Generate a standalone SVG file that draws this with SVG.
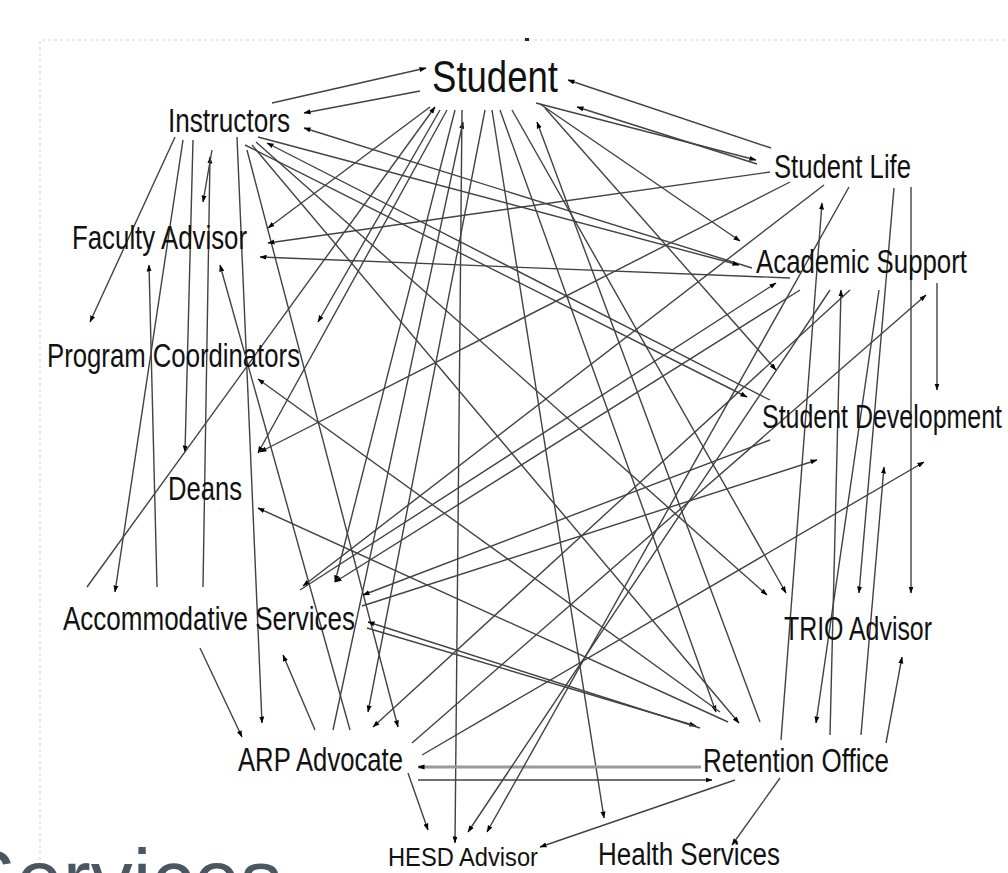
<svg xmlns="http://www.w3.org/2000/svg" width="1008" height="873" viewBox="0 0 1008 873">
<defs>
<marker id="ah" viewBox="0 0 7 6" refX="6.5" refY="3" markerWidth="7" markerHeight="6" markerUnits="userSpaceOnUse" orient="auto"><path d="M0,0.5 L7,3 L0,5.5 z" fill="#000"/></marker>
<style>
.c line{stroke:#424242;stroke-width:1.4;fill:none;marker-end:url(#ah)}
.lbl{font-family:"Liberation Sans",Arial,sans-serif;font-size:26px;fill:#111}
</style>
</defs>
<rect width="1008" height="873" fill="#fff"/>
<g id="frame" stroke="#e2e2e2" stroke-width="1.5" stroke-dasharray="3 3" fill="none">
<path d="M40,860 V40 H1008"/>
</g>
<rect x="525" y="38" width="4" height="3" fill="#222"/>
<g id="connectors" class="c">
<line x1="272" y1="103" x2="426" y2="68"/>
<line x1="420" y1="91" x2="304" y2="113"/>
<line x1="752" y1="268" x2="304" y2="128"/>
<line x1="258" y1="137" x2="739" y2="265"/>
<line x1="770" y1="400" x2="267" y2="143"/>
<line x1="245" y1="145" x2="747" y2="397"/>
<line x1="175" y1="137" x2="90" y2="322"/>
<line x1="183" y1="140" x2="115" y2="592"/>
<line x1="193" y1="140" x2="185" y2="452"/>
<line x1="203" y1="587" x2="210" y2="157"/>
<line x1="212" y1="150" x2="203" y2="202"/>
<line x1="237" y1="137" x2="262" y2="723"/>
<line x1="247" y1="150" x2="398" y2="727"/>
<line x1="252" y1="145" x2="739" y2="723"/>
<line x1="256" y1="142" x2="767" y2="595"/>
<line x1="771" y1="148" x2="568" y2="80"/>
<line x1="536" y1="103" x2="756" y2="160"/>
<line x1="757" y1="164" x2="577" y2="107"/>
<line x1="540" y1="104" x2="740" y2="241"/>
<line x1="430" y1="107" x2="268" y2="228"/>
<line x1="87" y1="587" x2="435" y2="107"/>
<line x1="440" y1="110" x2="318" y2="322"/>
<line x1="447" y1="110" x2="258" y2="453"/>
<line x1="455" y1="110" x2="335" y2="582"/>
<line x1="333" y1="730" x2="463" y2="122"/>
<line x1="485" y1="110" x2="368" y2="712"/>
<line x1="462" y1="110" x2="455" y2="843"/>
<line x1="492" y1="110" x2="604" y2="818"/>
<line x1="500" y1="110" x2="716" y2="712"/>
<line x1="512" y1="110" x2="786" y2="593"/>
<line x1="760" y1="722" x2="537" y2="122"/>
<line x1="545" y1="108" x2="776" y2="370"/>
<line x1="770" y1="172" x2="268" y2="243"/>
<line x1="790" y1="278" x2="260" y2="257"/>
<line x1="157" y1="587" x2="149" y2="265"/>
<line x1="350" y1="730" x2="220" y2="265"/>
<line x1="720" y1="712" x2="258" y2="379"/>
<line x1="790" y1="182" x2="260" y2="452"/>
<line x1="728" y1="722" x2="258" y2="508"/>
<line x1="200" y1="648" x2="242" y2="737"/>
<line x1="315" y1="730" x2="283" y2="655"/>
<line x1="824" y1="185" x2="303" y2="586"/>
<line x1="362" y1="606" x2="817" y2="460"/>
<line x1="300" y1="590" x2="776" y2="283"/>
<line x1="800" y1="290" x2="335" y2="582"/>
<line x1="367" y1="628" x2="696" y2="726"/>
<line x1="700" y1="728" x2="368" y2="622"/>
<line x1="701" y1="767" x2="418" y2="767" style="stroke:#9a9a9a;stroke-width:3"/>
<line x1="418" y1="780" x2="712" y2="780"/>
<line x1="408" y1="773" x2="428" y2="830"/>
<line x1="422" y1="755" x2="924" y2="462"/>
<line x1="412" y1="743" x2="926" y2="295"/>
<line x1="850" y1="290" x2="373" y2="727"/>
<line x1="879" y1="290" x2="816" y2="723"/>
<line x1="781" y1="740" x2="822" y2="203"/>
<line x1="861" y1="735" x2="884" y2="467"/>
<line x1="886" y1="743" x2="902" y2="657"/>
<line x1="735" y1="780" x2="540" y2="847"/>
<line x1="780" y1="778" x2="732" y2="845"/>
<line x1="911" y1="187" x2="911" y2="593"/>
<line x1="894" y1="188" x2="859" y2="593"/>
<line x1="937" y1="283" x2="937" y2="390"/>
<line x1="830" y1="735" x2="841" y2="290"/>
<line x1="830" y1="290" x2="468" y2="832"/>
<line x1="849" y1="187" x2="487" y2="832"/>
<line x1="770" y1="440" x2="363" y2="595"/>
</g>
<g id="node-student" transform="translate(432,92) scale(1,1.23)"><text class="lbl" x="0" y="0" style="font-size:36.5px" textLength="126" lengthAdjust="spacingAndGlyphs">Student</text></g>
<g id="node-instructors" transform="translate(168,132) scale(1,1.3)"><text class="lbl" x="0" y="0" textLength="122" lengthAdjust="spacingAndGlyphs">Instructors</text></g>
<g id="node-faculty-advisor" transform="translate(72,249) scale(1,1.3)"><text class="lbl" x="0" y="0" textLength="175" lengthAdjust="spacingAndGlyphs">Faculty Advisor</text></g>
<g id="node-program-coordinators" transform="translate(47,367) scale(1,1.3)"><text class="lbl" x="0" y="0" textLength="253" lengthAdjust="spacingAndGlyphs">Program Coordinators</text></g>
<g id="node-deans" transform="translate(168,500) scale(1,1.3)"><text class="lbl" x="0" y="0" textLength="74" lengthAdjust="spacingAndGlyphs">Deans</text></g>
<g id="node-accommodative-services" transform="translate(63,630) scale(1,1.3)"><text class="lbl" x="0" y="0" textLength="292" lengthAdjust="spacingAndGlyphs">Accommodative Services</text></g>
<g id="node-arp-advocate" transform="translate(238,771) scale(1,1.3)"><text class="lbl" x="0" y="0" textLength="165" lengthAdjust="spacingAndGlyphs">ARP Advocate</text></g>
<g id="node-student-life" transform="translate(774,178) scale(1,1.3)"><text class="lbl" x="0" y="0" textLength="137" lengthAdjust="spacingAndGlyphs">Student Life</text></g>
<g id="node-academic-support" transform="translate(756,273) scale(1,1.3)"><text class="lbl" x="0" y="0" style="font-size:25.5px" textLength="211" lengthAdjust="spacingAndGlyphs">Academic Support</text></g>
<g id="node-student-development" transform="translate(762,428) scale(1,1.3)"><text class="lbl" x="0" y="0" style="font-size:25px" textLength="240" lengthAdjust="spacingAndGlyphs">Student Development</text></g>
<g id="node-trio-advisor" transform="translate(784,640) scale(1,1.3)"><text class="lbl" x="0" y="0" textLength="148" lengthAdjust="spacingAndGlyphs">TRIO Advisor</text></g>
<g id="node-retention-office" transform="translate(703,772) scale(1,1.3)"><text class="lbl" x="0" y="0" textLength="186" lengthAdjust="spacingAndGlyphs">Retention Office</text></g>
<g id="node-health-services" transform="translate(598,865) scale(1,1.2)"><text class="lbl" x="0" y="0" textLength="182" lengthAdjust="spacingAndGlyphs">Health Services</text></g>
<g id="node-hesd-advisor" transform="translate(388,866) scale(1,1.15)"><text class="lbl" x="0" y="0" style="font-size:23px" textLength="150" lengthAdjust="spacingAndGlyphs">HESD Advisor</text></g>
<text x="-40" y="908" font-family="Liberation Sans, Arial, sans-serif" font-size="84" fill="#4a5763">Services</text>
</svg>
